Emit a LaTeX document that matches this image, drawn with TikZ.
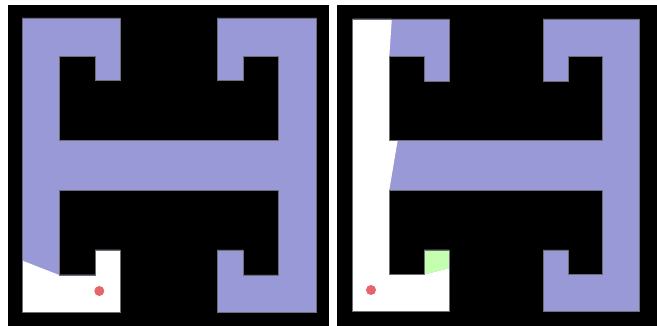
\documentclass[tikz,border=0pt]{standalone}
\usepackage{tikz}
\definecolor{lav}{RGB}{153,153,216}
\definecolor{lgreen}{RGB}{196,255,176}
\definecolor{dotred}{RGB}{232,99,106}
\definecolor{edge}{RGB}{110,110,120}
\tikzset{
  hshape/.style={fill=lav},
  hedge/.style={draw=edge,line width=0.7pt,line join=miter},
  seen/.style={fill=white},
  dot/.style={fill=dotred},
}
\begin{document}
\begin{tikzpicture}[x=1pt,y=-1pt]
\useasboundingbox (0,0) rectangle (657,326);
\fill[white] (0,0) rectangle (657,326);
\fill[black] (8,5) rectangle (329,326);
\fill[black] (337,5) rectangle (657,326);
% left panel
\path[hshape] (22,18) -- (120,18) -- (120,80) -- (95,80) -- (95,56) -- (59,56) -- (59,140.5) -- (278,140.5) -- (278,56) -- (243,56) -- (243,80) -- (217,80) -- (217,18) -- (316,18) -- (316,312) -- (217,312) -- (217,250) -- (243,250) -- (243,275) -- (278,275) -- (278,190) -- (59,190) -- (59,275) -- (95,275) -- (95,250) -- (120,250) -- (120,312) -- (22,312) -- cycle;
\path[seen] (22,260.5) -- (59,275) -- (95,275) -- (95,250) -- (120,250) -- (120,312) -- (22,312) -- cycle;
\path[hedge] (22,18) -- (120,18) -- (120,80) -- (95,80) -- (95,56) -- (59,56) -- (59,140.5) -- (278,140.5) -- (278,56) -- (243,56) -- (243,80) -- (217,80) -- (217,18) -- (316,18) -- (316,312) -- (217,312) -- (217,250) -- (243,250) -- (243,275) -- (278,275) -- (278,190) -- (59,190) -- (59,275) -- (95,275) -- (95,250) -- (120,250) -- (120,312) -- (22,312) -- cycle;
\path[dot] (99.3,291) circle (5);
% right panel
\path[hshape] (352.7,19) -- (449,19) -- (449,81) -- (424,81) -- (424,56.7) -- (389.3,56.7) -- (389.3,140.7) -- (602.7,140.7) -- (602.7,56.7) -- (568,56.7) -- (568,81) -- (543,81) -- (543,19) -- (639.3,19) -- (639.3,311) -- (543,311) -- (543,250) -- (568,250) -- (568,274.5) -- (602.7,274.5) -- (602.7,190) -- (389.3,190) -- (389.3,274.5) -- (424,274.5) -- (424,250) -- (449,250) -- (449,311) -- (352.7,311) -- cycle;
\path[seen] (352.7,19) -- (391.8,19) -- (389.3,56.7) -- (389.3,140.7) -- (397.6,140.7) -- (389.3,190) -- (389.3,274.5) -- (424,274.5) -- (449,268.3) -- (449,311) -- (352.7,311) -- cycle;
\path[fill=lgreen] (424,250) -- (449,250) -- (449,268.3) -- (424,274.5) -- cycle;
\path[hedge] (352.7,19) -- (449,19) -- (449,81) -- (424,81) -- (424,56.7) -- (389.3,56.7) -- (389.3,140.7) -- (602.7,140.7) -- (602.7,56.7) -- (568,56.7) -- (568,81) -- (543,81) -- (543,19) -- (639.3,19) -- (639.3,311) -- (543,311) -- (543,250) -- (568,250) -- (568,274.5) -- (602.7,274.5) -- (602.7,190) -- (389.3,190) -- (389.3,274.5) -- (424,274.5) -- (424,250) -- (449,250) -- (449,311) -- (352.7,311) -- cycle;
\path[dot] (371,290) circle (5);
\end{tikzpicture}
\end{document}
